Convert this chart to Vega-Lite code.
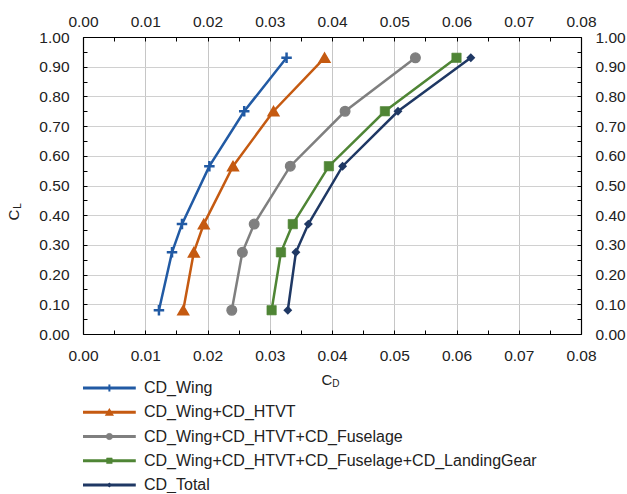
{
  "$schema": "https://vega.github.io/schema/vega-lite/v6.json",
  "padding": {"left": 6, "top": 14, "right": 5, "bottom": 0},
  "bounds": "flush",
  "spacing": 54,
  "config": {"view": {"stroke": null}, "font": "Liberation Sans"},
  "resolve": {"scale": {"size": "independent", "strokeWidth": "independent", "shape": "independent", "stroke": "independent"}},
  "datasets": {
    "pts": [
      {"series": "CD_Wing", "cd": 0.0122, "cl": 0.08},
      {"series": "CD_Wing", "cd": 0.0143, "cl": 0.275},
      {"series": "CD_Wing", "cd": 0.0159, "cl": 0.37},
      {"series": "CD_Wing", "cd": 0.0203, "cl": 0.565},
      {"series": "CD_Wing", "cd": 0.0259, "cl": 0.75},
      {"series": "CD_Wing", "cd": 0.0327, "cl": 0.93},
      {"series": "CD_Wing+CD_HTVT", "cd": 0.0161, "cl": 0.08},
      {"series": "CD_Wing+CD_HTVT", "cd": 0.0178, "cl": 0.275},
      {"series": "CD_Wing+CD_HTVT", "cd": 0.0194, "cl": 0.37},
      {"series": "CD_Wing+CD_HTVT", "cd": 0.0241, "cl": 0.565},
      {"series": "CD_Wing+CD_HTVT", "cd": 0.0306, "cl": 0.75},
      {"series": "CD_Wing+CD_HTVT", "cd": 0.0388, "cl": 0.93},
      {"series": "CD_Wing+CD_HTVT+CD_Fuselage", "cd": 0.0239, "cl": 0.08},
      {"series": "CD_Wing+CD_HTVT+CD_Fuselage", "cd": 0.0256, "cl": 0.275},
      {"series": "CD_Wing+CD_HTVT+CD_Fuselage", "cd": 0.0275, "cl": 0.37},
      {"series": "CD_Wing+CD_HTVT+CD_Fuselage", "cd": 0.0333, "cl": 0.565},
      {"series": "CD_Wing+CD_HTVT+CD_Fuselage", "cd": 0.0421, "cl": 0.75},
      {"series": "CD_Wing+CD_HTVT+CD_Fuselage", "cd": 0.0534, "cl": 0.93},
      {"series": "CD_Wing+CD_HTVT+CD_Fuselage+CD_LandingGear", "cd": 0.0303, "cl": 0.08},
      {"series": "CD_Wing+CD_HTVT+CD_Fuselage+CD_LandingGear", "cd": 0.0318, "cl": 0.275},
      {"series": "CD_Wing+CD_HTVT+CD_Fuselage+CD_LandingGear", "cd": 0.0337, "cl": 0.37},
      {"series": "CD_Wing+CD_HTVT+CD_Fuselage+CD_LandingGear", "cd": 0.0395, "cl": 0.565},
      {"series": "CD_Wing+CD_HTVT+CD_Fuselage+CD_LandingGear", "cd": 0.0485, "cl": 0.75},
      {"series": "CD_Wing+CD_HTVT+CD_Fuselage+CD_LandingGear", "cd": 0.0600, "cl": 0.93},
      {"series": "CD_Total", "cd": 0.0329, "cl": 0.08},
      {"series": "CD_Total", "cd": 0.0342, "cl": 0.275},
      {"series": "CD_Total", "cd": 0.0362, "cl": 0.37},
      {"series": "CD_Total", "cd": 0.0417, "cl": 0.565},
      {"series": "CD_Total", "cd": 0.0506, "cl": 0.75},
      {"series": "CD_Total", "cd": 0.0623, "cl": 0.93}
    ],
    "leg": [
      {"series": "CD_Wing"},
      {"series": "CD_Wing+CD_HTVT"},
      {"series": "CD_Wing+CD_HTVT+CD_Fuselage"},
      {"series": "CD_Wing+CD_HTVT+CD_Fuselage+CD_LandingGear"},
      {"series": "CD_Total"}
    ]
  },
  "vconcat": [
    {
      "width": 498,
      "height": 297,
      "data": {"name": "pts"},
      "layer": [
        {
          "mark": {"type": "line", "strokeWidth": 2.5},
          "encoding": {
            "x": {"field": "cd", "type": "quantitative",
              "scale": {"domain": [0, 0.08], "nice": false, "zero": false},
              "axis": {"orient": "bottom", "title": null,
                "values": [0,0.005,0.01,0.015,0.02,0.025,0.03,0.035,0.04,0.045,0.05,0.055,0.06,0.065,0.07,0.075,0.08],
                "labelExpr": "round(datum.value*1000)%10==0 ? format(datum.value,'.2f') : ''",
                "labelFlush": false, "labelOverlap": false, "labelFontSize": 15.5, "labelColor": "#222",
                "labelPadding": 18, "tickSize": -4, "tickColor": "#000", "domainColor": "#000", "domainWidth": 1.2,
                "grid": true, "gridColor": "#c6c6c6", "gridWidth": 1,
                "gridOpacity": {"condition": {"test": "round(datum.value*1000)%10==0", "value": 1}, "value": 0}}},
            "y": {"field": "cl", "type": "quantitative",
              "scale": {"domain": [0, 1], "nice": false, "zero": false},
              "axis": {"orient": "left", "title": null,
                "values": [0,0.05,0.1,0.15,0.2,0.25,0.3,0.35,0.4,0.45,0.5,0.55,0.6,0.65,0.7,0.75,0.8,0.85,0.9,0.95,1],
                "labelExpr": "round(datum.value*100)%10==0 ? format(datum.value,'.2f') : ''",
                "labelFlush": false, "labelOverlap": false, "labelFontSize": 15.5, "labelColor": "#222",
                "labelPadding": 18, "tickSize": -4, "tickColor": "#000", "domainColor": "#000", "domainWidth": 1.2,
                "grid": true, "gridColor": "#d0d0d0", "gridWidth": 1.2,
                "gridOpacity": {"condition": {"test": "round(datum.value*100)%10==0", "value": 1}, "value": 0}}},
            "color": {"field": "series", "type": "nominal", "legend": null,
              "scale": {"domain": ["CD_Wing","CD_Wing+CD_HTVT","CD_Wing+CD_HTVT+CD_Fuselage","CD_Wing+CD_HTVT+CD_Fuselage+CD_LandingGear","CD_Total"],
                "range": ["#215AA4","#C55A11","#7F7F7F","#4F8535","#1F3864"]}},
            "order": {"field": "cl", "type": "quantitative"}
          }
        },
        {
          "mark": {"type": "point", "filled": true, "opacity": 1},
          "encoding": {
            "x": {"field": "cd", "type": "quantitative",
              "axis": {"orient": "top", "title": null,
                "values": [0,0.005,0.01,0.015,0.02,0.025,0.03,0.035,0.04,0.045,0.05,0.055,0.06,0.065,0.07,0.075,0.08],
                "labelExpr": "round(datum.value*1000)%10==0 ? format(datum.value,'.2f') : ''",
                "labelFlush": false, "labelOverlap": false, "labelFontSize": 15.5, "labelColor": "#222",
                "labelPadding": 12, "tickSize": -4, "tickColor": "#000", "domainColor": "#000", "domainWidth": 1.2,
                "grid": false}},
            "y": {"field": "cl", "type": "quantitative",
              "axis": {"orient": "right", "title": null,
                "values": [0,0.05,0.1,0.15,0.2,0.25,0.3,0.35,0.4,0.45,0.5,0.55,0.6,0.65,0.7,0.75,0.8,0.85,0.9,0.95,1],
                "labelExpr": "round(datum.value*100)%10==0 ? format(datum.value,'.2f') : ''",
                "labelFlush": false, "labelOverlap": false, "labelFontSize": 15.5, "labelColor": "#222",
                "labelPadding": 18, "tickSize": -4, "tickColor": "#000", "domainColor": "#000", "domainWidth": 1.2,
                "grid": false}},
            "color": {"field": "series", "type": "nominal", "legend": null},
            "stroke": {"field": "series", "type": "nominal", "legend": null,
              "scale": {"domain": ["CD_Wing","CD_Wing+CD_HTVT","CD_Wing+CD_HTVT+CD_Fuselage","CD_Wing+CD_HTVT+CD_Fuselage+CD_LandingGear","CD_Total"],
                "range": ["#215AA4","#C55A11","#7F7F7F","#4F8535","#1F3864"]}},
            "shape": {"field": "series", "type": "nominal", "legend": null,
              "scale": {"domain": ["CD_Wing","CD_Wing+CD_HTVT","CD_Wing+CD_HTVT+CD_Fuselage","CD_Wing+CD_HTVT+CD_Fuselage+CD_LandingGear","CD_Total"],
                "range": ["M-1,0H1M0,-1V1","triangle-up","circle","square","diamond"]}},
            "size": {"field": "series", "type": "nominal", "legend": null,
              "scale": {"domain": ["CD_Wing","CD_Wing+CD_HTVT","CD_Wing+CD_HTVT+CD_Fuselage","CD_Wing+CD_HTVT+CD_Fuselage+CD_LandingGear","CD_Total"],
                "range": [110, 80, 64, 100, 60]}},
            "strokeWidth": {"field": "series", "type": "nominal", "legend": null,
              "scale": {"domain": ["CD_Wing","CD_Wing+CD_HTVT","CD_Wing+CD_HTVT+CD_Fuselage","CD_Wing+CD_HTVT+CD_Fuselage+CD_LandingGear","CD_Total"],
                "range": [2.5, 0, 0, 0, 0]}}
          }
        },
        {
          "data": {"values": [{}]},
          "mark": {"type": "text", "text": "C", "fontSize": 15, "align": "center", "baseline": "middle", "color": "#222"},
          "encoding": {"x": {"datum": 0.0392, "type": "quantitative", "axis": null}, "y": {"datum": -0.155, "type": "quantitative", "axis": null}}
        },
        {
          "data": {"values": [{}]},
          "mark": {"type": "text", "text": "D", "fontSize": 10, "align": "center", "baseline": "middle", "color": "#222"},
          "encoding": {"x": {"datum": 0.0406, "type": "quantitative", "axis": null}, "y": {"datum": -0.168, "type": "quantitative", "axis": null}}
        },
        {
          "data": {"values": [{}]},
          "mark": {"type": "text", "text": "C", "fontSize": 15, "align": "center", "baseline": "middle", "angle": 270, "color": "#222"},
          "encoding": {"x": {"datum": -0.0111, "type": "quantitative", "axis": null}, "y": {"datum": 0.40, "type": "quantitative", "axis": null}}
        },
        {
          "data": {"values": [{}]},
          "mark": {"type": "text", "text": "L", "fontSize": 10, "align": "center", "baseline": "middle", "angle": 270, "color": "#222"},
          "encoding": {"x": {"datum": -0.0104, "type": "quantitative", "axis": null}, "y": {"datum": 0.431, "type": "quantitative", "axis": null}}
        }
      ],
      "resolve": {"axis": {"x": "independent", "y": "independent"}}
    },
    {
      "width": 498,
      "height": 97,
      "data": {"name": "leg"},
      "encoding": {
        "y": {"field": "series", "type": "nominal", "axis": null, "sort": null,
          "scale": {"type": "point", "padding": 0}},
        "color": {"field": "series", "type": "nominal", "legend": null,
          "scale": {"domain": ["CD_Wing","CD_Wing+CD_HTVT","CD_Wing+CD_HTVT+CD_Fuselage","CD_Wing+CD_HTVT+CD_Fuselage+CD_LandingGear","CD_Total"],
            "range": ["#215AA4","#C55A11","#7F7F7F","#4F8535","#1F3864"]}}
      },
      "layer": [
        {
          "mark": {"type": "rule", "strokeWidth": 3},
          "encoding": {
            "x": {"datum": 0, "type": "quantitative", "scale": {"domain": [0, 1], "nice": false}, "axis": null},
            "x2": {"datum": 0.106}
          }
        },
        {
          "mark": {"type": "point", "filled": true, "opacity": 1},
          "encoding": {
            "x": {"datum": 0.053, "type": "quantitative", "axis": null},
            "stroke": {"field": "series", "type": "nominal", "legend": null,
              "scale": {"domain": ["CD_Wing","CD_Wing+CD_HTVT","CD_Wing+CD_HTVT+CD_Fuselage","CD_Wing+CD_HTVT+CD_Fuselage+CD_LandingGear","CD_Total"],
                "range": ["#215AA4","#C55A11","#7F7F7F","#4F8535","#1F3864"]}},
            "shape": {"field": "series", "type": "nominal", "legend": null,
              "scale": {"domain": ["CD_Wing","CD_Wing+CD_HTVT","CD_Wing+CD_HTVT+CD_Fuselage","CD_Wing+CD_HTVT+CD_Fuselage+CD_LandingGear","CD_Total"],
                "range": ["M0,-1V1","triangle-up","circle","square","diamond"]}},
            "size": {"field": "series", "type": "nominal", "legend": null,
              "scale": {"domain": ["CD_Wing","CD_Wing+CD_HTVT","CD_Wing+CD_HTVT+CD_Fuselage","CD_Wing+CD_HTVT+CD_Fuselage+CD_LandingGear","CD_Total"],
                "range": [50, 25, 28, 40, 16]}},
            "strokeWidth": {"field": "series", "type": "nominal", "legend": null,
              "scale": {"domain": ["CD_Wing","CD_Wing+CD_HTVT","CD_Wing+CD_HTVT+CD_Fuselage","CD_Wing+CD_HTVT+CD_Fuselage+CD_LandingGear","CD_Total"],
                "range": [2, 0, 0, 0, 0]}}
          }
        },
        {
          "mark": {"type": "text", "align": "left", "baseline": "middle", "fontSize": 16, "color": "#222"},
          "encoding": {
            "x": {"datum": 0.1225, "type": "quantitative", "axis": null},
            "text": {"field": "series", "type": "nominal"},
            "color": {"value": "#222"}
          }
        }
      ]
    }
  ]
}
